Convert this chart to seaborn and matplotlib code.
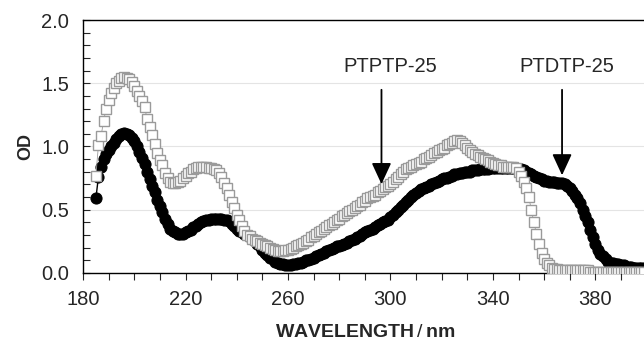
import matplotlib
matplotlib.use("Agg")
import matplotlib.pyplot as plt
import seaborn as sns
import numpy as np
from matplotlib.ticker import MultipleLocator, FixedLocator

# wavelength (nm), 1 nm steps
wavelength = list(range(185, 400))

# PTPTP-25 (grey open squares)
od_ptptp = [
    0.77, 1.01, 1.08, 1.20, 1.30, 1.37, 1.42, 1.46, 1.50, 1.52,   # 185-194
    1.54, 1.55, 1.54, 1.53, 1.51, 1.48, 1.44, 1.40, 1.36, 1.31,   # 195-204
    1.22, 1.15, 1.09, 1.02, 0.95, 0.89, 0.85, 0.79, 0.75, 0.72,   # 205-214
    0.71, 0.71, 0.72, 0.73, 0.75, 0.77, 0.79, 0.80, 0.82, 0.83,   # 215-224
    0.84, 0.84, 0.84, 0.84, 0.83, 0.83, 0.82, 0.81, 0.79, 0.76,   # 225-234
    0.71, 0.67, 0.62, 0.56, 0.51, 0.46, 0.42, 0.37, 0.33, 0.30,   # 235-244
    0.29, 0.27, 0.26, 0.25, 0.24, 0.23, 0.22, 0.21, 0.20, 0.19,   # 245-254
    0.18, 0.17, 0.17, 0.17, 0.18, 0.18, 0.19, 0.20, 0.21, 0.22,   # 255-264
    0.23, 0.24, 0.25, 0.26, 0.28, 0.29, 0.31, 0.32, 0.33, 0.35,   # 265-274
    0.36, 0.38, 0.39, 0.40, 0.42, 0.43, 0.45, 0.46, 0.47, 0.49,   # 275-284
    0.50, 0.51, 0.53, 0.54, 0.56, 0.57, 0.59, 0.60, 0.61, 0.62,   # 285-294
    0.64, 0.65, 0.66, 0.68, 0.69, 0.70, 0.72, 0.74, 0.76, 0.78,   # 295-304
    0.80, 0.82, 0.83, 0.84, 0.85, 0.86, 0.87, 0.88, 0.90, 0.91,   # 305-314
    0.92, 0.93, 0.95, 0.96, 0.97, 0.98, 0.99, 1.01, 1.02, 1.03,   # 315-324
    1.04, 1.05, 1.04, 1.03, 1.01, 0.99, 0.97, 0.96, 0.94, 0.93,   # 325-334
    0.92, 0.91, 0.90, 0.89, 0.88, 0.87, 0.86, 0.85, 0.85, 0.84,   # 335-344
    0.84, 0.84, 0.84, 0.84, 0.83, 0.80, 0.77, 0.72, 0.67, 0.60,   # 345-354
    0.50, 0.40, 0.31, 0.23, 0.16, 0.11, 0.08, 0.06, 0.04, 0.03,   # 355-364
    0.03, 0.02, 0.02, 0.02, 0.02, 0.02, 0.02, 0.02, 0.02, 0.02,   # 365-374
    0.02, 0.02, 0.02, 0.01, 0.01, 0.01, 0.01, 0.01, 0.01, 0.01,   # 375-384
    0.01, 0.01, 0.01, 0.01, 0.01, 0.01, 0.01, 0.01, 0.01, 0.01,   # 385-394
    0.01, 0.01, 0.01, 0.01, 0.01,                                 # 395-399
]

# PTDTP-25 (black filled circles)
od_ptdtp = [
    0.59, 0.76, 0.84, 0.90, 0.94, 0.97, 1.00, 1.03, 1.06, 1.08,   # 185-194
    1.10, 1.11, 1.10, 1.09, 1.07, 1.04, 1.00, 0.96, 0.91, 0.86,   # 195-204
    0.80, 0.74, 0.69, 0.64, 0.58, 0.53, 0.48, 0.43, 0.39, 0.35,   # 205-214
    0.33, 0.32, 0.31, 0.31, 0.31, 0.32, 0.33, 0.34, 0.36, 0.37,   # 215-224
    0.39, 0.40, 0.41, 0.42, 0.42, 0.43, 0.43, 0.43, 0.43, 0.43,   # 225-234
    0.42, 0.42, 0.41, 0.39, 0.37, 0.35, 0.33, 0.32, 0.31, 0.30,   # 235-244
    0.28, 0.27, 0.25, 0.23, 0.21, 0.18, 0.16, 0.14, 0.12, 0.11,   # 245-254
    0.09, 0.08, 0.07, 0.07, 0.065, 0.065, 0.065, 0.07, 0.07, 0.08,  # 255-264
    0.08, 0.09, 0.10, 0.10, 0.11, 0.12, 0.13, 0.14, 0.15, 0.16,   # 265-274
    0.17, 0.18, 0.19, 0.20, 0.21, 0.21, 0.22, 0.23, 0.24, 0.25,   # 275-284
    0.26, 0.27, 0.28, 0.29, 0.31, 0.32, 0.33, 0.34, 0.35, 0.36,   # 285-294
    0.38, 0.39, 0.40, 0.41, 0.42, 0.44, 0.46, 0.48, 0.50, 0.52,   # 295-304
    0.54, 0.56, 0.58, 0.60, 0.62, 0.63, 0.65, 0.66, 0.67, 0.68,   # 305-314
    0.69, 0.70, 0.71, 0.72, 0.73, 0.74, 0.75, 0.75, 0.76, 0.77,   # 315-324
    0.78, 0.78, 0.79, 0.79, 0.80, 0.80, 0.80, 0.81, 0.81, 0.81,   # 325-334
    0.82, 0.82, 0.82, 0.82, 0.83, 0.83, 0.83, 0.83, 0.83, 0.83,   # 335-344
    0.83, 0.83, 0.83, 0.83, 0.83, 0.82, 0.82, 0.81, 0.80, 0.79,   # 345-354
    0.78, 0.77, 0.76, 0.75, 0.74, 0.73, 0.73, 0.72, 0.72, 0.72,   # 355-364
    0.71, 0.71, 0.71, 0.70, 0.69, 0.67, 0.65, 0.62, 0.59, 0.55,   # 365-374
    0.50, 0.45, 0.40, 0.34, 0.28, 0.23, 0.18, 0.15, 0.13, 0.11,   # 375-384
    0.09, 0.08, 0.08, 0.07, 0.07, 0.06, 0.06, 0.05, 0.05, 0.05,   # 385-394
    0.04, 0.04, 0.04, 0.04, 0.04,                                 # 395-399
]

x_ticks = [180, 220, 260, 300, 340, 380]
labels = ["PTPTP-25", "PTDTP-25"]
label_pos = [(300, 1.63), (369, 1.63)]
arrow_x = [296.5, 367]
arrow_tip = [0.68, 0.75]

sns.set_style("ticks")
plt.rcParams["font.family"] = ["Liberation Sans", "DejaVu Sans"]
plt.rcParams["mathtext.fontset"] = "custom"
plt.rcParams["mathtext.rm"] = "Liberation Sans"

fig = plt.figure(figsize=(6.44, 3.45), dpi=100)
ax = fig.add_axes([0.129, 0.209, 0.875, 0.733])

ax.yaxis.grid(True, color="#e4e4e4", lw=0.8)
ax.set_axisbelow(True)

sns.lineplot(x=wavelength, y=od_ptdtp, ax=ax, color="black", lw=1.0,
             marker="o", markersize=8, markerfacecolor="black",
             markeredgecolor="black", zorder=2)
sns.lineplot(x=wavelength, y=od_ptptp, ax=ax, color="#9a9a9a", lw=0.6,
             marker="s", markersize=6.8, markerfacecolor="white",
             markeredgecolor="#9a9a9a", markeredgewidth=1.0, zorder=3)

for lab, (tx, ty), xa, tip in zip(labels, label_pos, arrow_x, arrow_tip):
    ax.text(tx, ty, lab, ha="center", va="center", fontsize=14.5)
    ax.annotate("", xy=(xa, tip), xytext=(xa, ty - 0.16),
                arrowprops=dict(arrowstyle="-|>,head_width=0.3,head_length=0.65",
                                color="black", lw=1.3, mutation_scale=20),
                zorder=5)

ax.set_xlim(180, 400)
ax.set_ylim(0, 2.0)
ax.xaxis.set_major_locator(FixedLocator(x_ticks))
ax.xaxis.set_minor_locator(MultipleLocator(10))
ax.yaxis.set_major_locator(MultipleLocator(0.5))
ax.yaxis.set_minor_locator(MultipleLocator(0.1))
ax.yaxis.set_major_formatter(plt.FormatStrFormatter("%.1f"))
ax.tick_params(axis="x", which="both", direction="out", length=5, width=0.8,
               labelsize=14.5, pad=7)
ax.tick_params(axis="y", which="both", direction="in", length=5, width=0.8,
               labelsize=14.5, pad=10)

for s in ax.spines.values():
    s.set_color("black")
    s.set_linewidth(1.0)

ax.set_xlabel(r"WAVELENGTH$\,\mathrm{/}\,$nm", fontsize=14, fontweight="bold",
              labelpad=11)
ax.set_ylabel("OD", fontsize=13, fontweight="bold", labelpad=5)

fig.savefig("out.png", dpi=100)
